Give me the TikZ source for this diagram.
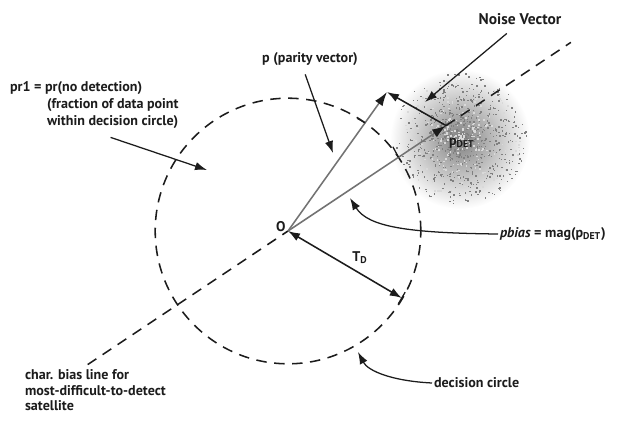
\documentclass[tikz,border=0pt]{standalone}
\usepackage{fontspec}
\setmainfont{PT Sans}
\usetikzlibrary{calc,arrows.meta}
\definecolor{ink}{HTML}{1C1C1C}

\begin{document}
\begin{tikzpicture}[
    line width=0.9pt,
    >={Latex[length=3mm,width=2.1mm]},
    every node/.style={font=\fontsize{10}{11}\selectfont\bfseries, text=ink, inner sep=1pt},
    vec/.style={draw=black!55, line width=1.1pt, -{Latex[length=3.5mm,width=2.3mm,color=ink]}},
    callout/.style={draw=ink, ->},
    dashline/.style={draw=ink, line width=1.1pt, dash pattern=on 2.6mm off 1.9mm}
]
\useasboundingbox (-7.2,-4.875) rectangle (8.25,5.775);

%====================================================
% POINTS
%====================================================
\coordinate (O) at (0,0);
\coordinate (pdet) at (33.7:4.75);
\coordinate (ptip) at (2.475,3.475);
\coordinate (tdend) at (-30.5:3.3);
\coordinate (biasA) at (213.7:6.02);
\coordinate (biasB) at (33.7:8.5);
\coordinate (cloud) at (4.3,2.3);

%====================================================
% NOISE CLOUD
%====================================================
\shade[inner color=black!50, outer color=white] (cloud) circle (1.75);
\pgfmathsetseed{11}
\foreach \i in {1,...,700}
{
    \pgfmathsetmacro{\a}{360*rnd}
    \pgfmathsetmacro{\r}{1.65*rnd^0.8}
    \fill[black!50] ($(cloud)+(\a:\r)$) rectangle ++(0.035,0.035);
}
\foreach \i in {1,...,250}
{
    \pgfmathsetmacro{\a}{360*rnd}
    \pgfmathsetmacro{\r}{1.5*rnd}
    \fill[white!85!black] ($(cloud)+(\a:\r)$) rectangle ++(0.04,0.04);
}

%====================================================
% CIRCLE, BIAS LINE, VECTORS
%====================================================
\draw[dashline] (O) circle (3.32);
\draw[dashline] (biasA) -- (O);
\draw[dashline] (pdet) -- (biasB);

\draw[vec] (O) -- (ptip);
\draw[vec] (O) -- (pdet);
\draw[ink, line width=1.1pt, ->] (pdet) -- (ptip);
\draw[ink, line width=1.1pt, <->] (O) -- (tdend);

% ticks on the circle
\draw[ink] (tdend) ++(59.5:0.17) -- ++(239.5:0.34);
\draw[ink] (54.5:3.32) -- ++(150:0.22);
\draw[ink] (33.7:3.32) -- ++(118:0.3);

%====================================================
% LABELS
%====================================================
\node (olbl) at (-0.18,0.1) {O};
\node (tdlbl) at (1.8,-0.675) {T\textsubscript{D}};
\node[anchor=west] (pdetlbl) at (3.975,2.2) {p\textsubscript{DET}};

\node[font=\fontsize{11}{12}\selectfont\bfseries] (noiselbl) at (5.8,5.3) {Noise Vector};
\coordinate (noisetip) at (3.425,3.225);
\draw[callout] (noiselbl.south) ++(-0.33,-0.17) -- (noisetip);

\node (plbl) at (0.55,4.3) {p (parity vector)};
\coordinate (ptail) at (1.125,1.95);
\draw[callout] (plbl.south) ++(-0.12,-0.17) -- (ptail);

\node[anchor=west] (prone) at (-7.0,3.575) {pr1 = pr(no detection)};
\node[anchor=west] (prtwo) at (-6.075,3.15) {(fraction of data point};
\node[anchor=west] (prthree) at (-6.075,2.725) {within decision circle)};
\coordinate (prtip) at (-2.025,1.525);
\draw[callout] (prthree.south) ++(-0.05,-0.17) -- (prtip);

\node[anchor=west] (biaslbl) at (5.25,-0.075) {\textit{pbias} = mag(p\textsubscript{DET})};
\coordinate (biastip) at (1.55,0.825);
\draw[callout] (biaslbl.west) .. controls (3.0,-0.05) and (2.0,0.1) .. (biastip);

\node[anchor=west] (declbl) at (3.6,-3.8) {decision circle};
\coordinate (dectip) at (1.75,-3.025);
\draw[callout] (declbl.west) .. controls (2.6,-3.75) and (2.0,-3.5) .. (dectip);

\node[anchor=north west, align=left] (linelbl) at (-6.625,-3.42)
    {char. bias line for\\most-difficult-to-detect\\satellite};
\end{tikzpicture}
\end{document}
